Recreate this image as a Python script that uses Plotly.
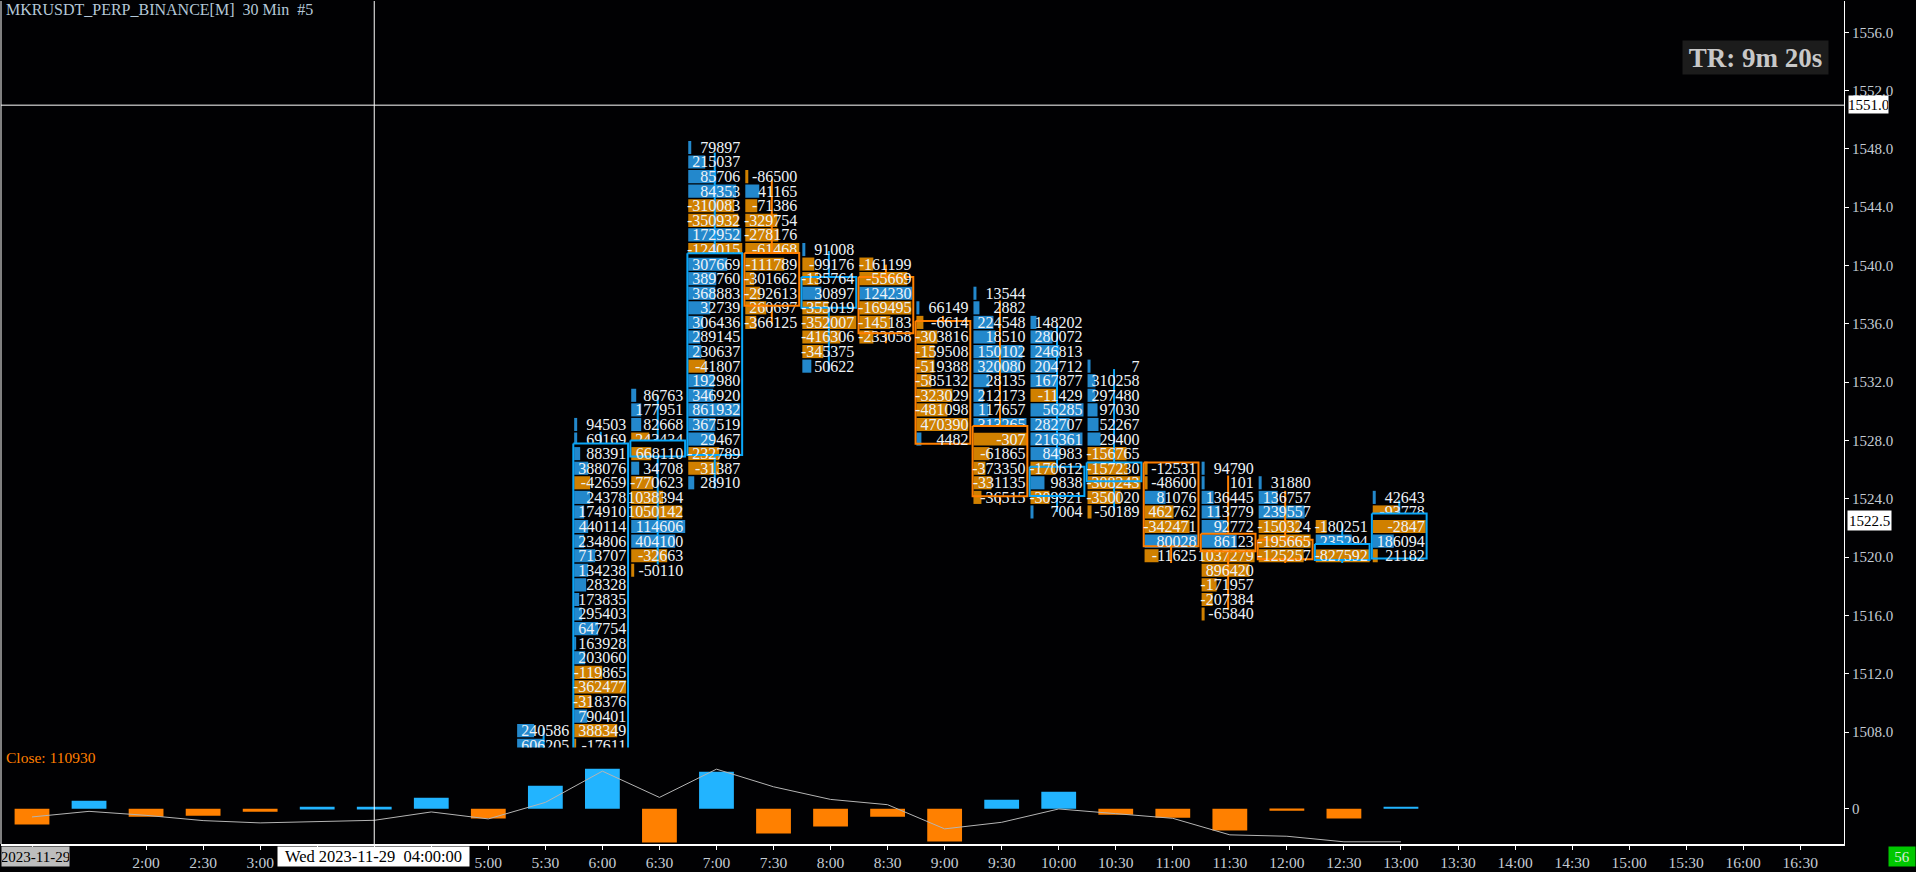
import plotly.graph_objects as go

# ========== Time axis ==========
time_labels = ["1:00", "1:30", "2:00", "2:30", "3:00", "3:30", "4:00", "4:30", "5:00", "5:30", "6:00",
               "6:30", "7:00", "7:30", "8:00", "8:30", "9:00", "9:30", "10:00", "10:30", "11:00", "11:30",
               "12:00", "12:30", "13:00", "13:30", "14:00", "14:30", "15:00", "15:30", "16:00", "16:30"]
hidden_labels = ["1:00", "1:30", "3:30", "4:00", "4:30"]  # sit under the date and crosshair boxes

# ========== Lower panel: delta bars + cumulative line ==========
delta = [-880000, 440000, -440000, -385000, -165000, 110000, 110000, 605000, -550000, 1265000, 2200000,
         -1870000, 2035000, -1375000, -990000, -440000, -1815000, 495000, 935000, -330000, -495000,
         -1210000, -110000, -550000, 110930]
cum_line = [-456500, -148500, -368500, -660000, -786500, -698500, -643500, -181500, -566500, 346500,
            2073500, 621500, 2183500, 1210000, 511500, 220000, -1116500, -753500, -16500, -275000,
            -533500, -1446500, -1523500, -1831500, -1831500]

# ========== Footprint candles (5:30 to 13:00) ==========
candle_slots = [9, 10, 11, 12, 13, 14, 15, 16, 17, 18, 19, 20, 21, 22, 23, 24]
opens = [1505.5, 1506.0, 1526.9, 1527.0, 1540.86, 1537.1, 1539.22, 1536.2, 1528.99, 1524.2, 1525.2,
         1526.5, 1521.6, 1521.2, 1519.8, 1519.9]
closes = [1506.5, 1527.8, 1528.0, 1540.85, 1537.24, 1539.22, 1535.35, 1527.78, 1524.17, 1526.2, 1526.5,
          1520.74, 1520.4, 1519.85, 1520.9, 1523.0]
highs = [1508.3, 1528.6, 1531.05, 1547.75, 1545.9, 1541.0, 1540.06, 1536.55, 1537.6, 1535.9, 1532.9,
         1526.5, 1525.6, 1524.55, 1522.3, 1523.9]
lows = [1505.0, 1506.0, 1519.5, 1524.7, 1536.0, 1532.7, 1534.67, 1527.78, 1523.6, 1523.1, 1523.2,
        1519.6, 1516.4, 1519.6, 1519.6, 1519.9]

# price of the top row in each candle, one row per 1.0 going down
top_rows = [1508, 1529, 1531, 1548, 1546, 1541, 1540, 1537, 1538, 1536, 1533, 1526, 1526, 1525, 1522, 1524]

row_text = [
    ["240586", "606205"],
    ["94503", "69169", "88391", "388076", "-42659", "24378", "174910", "440114", "234806", "713707",
     "134238", "28328", "173835", "295403", "647754", "163928", "203060", "-119865", "-362477", "-318376",
     "790401", "388349", "-17611"],
    ["86763", "177951", "82668", "243434", "668110", "34708", "-770623", "1038394", "1050142", "114606",
     "404100", "-32663", "-50110"],
    ["79897", "215037", "85706", "84353", "-310083", "-350932", "172952", "-124015", "307669", "389760",
     "368883", "32739", "306436", "289145", "230637", "-41807", "192980", "346920", "861932", "367519",
     "29467", "-232789", "-31387", "28910"],
    ["-86500", "41165", "-71386", "-329754", "-278176", "-61468", "-111789", "-301662", "-292613",
     "260697", "-366125"],
    ["91008", "-99176", "-135764", "30897", "-355019", "-352007", "-416306", "-345375", "50622"],
    ["-161199", "-55669", "124230", "-169495", "-145183", "-233058"],
    ["66149", "-6614", "-303816", "-159508", "-519388", "-585132", "-323029", "-481098", "470390", "4482"],
    ["13544", "2882", "224548", "18510", "150102", "320080", "28135", "212173", "117657", "313265",
     "-307", "-61865", "-373350", "-331135", "-36515"],
    ["148202", "280072", "246813", "204712", "167877", "-11429", "56285", "282707", "216361", "84983",
     "-170612", "9838", "-309921", "7004"],
    ["7", "310258", "297480", "97030", "52267", "29400", "-156765", "-157230", "-308243", "-350020", "-50189"],
    ["-12531", "-48600", "81076", "462762", "-342471", "80028", "-11625"],
    ["94790", "101", "136445", "113779", "92772", "86123", "1037279", "896420", "-171957", "-207384", "-65840"],
    ["31880", "136757", "239557", "-150324", "-195665", "-125257"],
    ["-180251", "235294", "-827592"],
    ["42643", "-93778", "-2847", "186094", "21182"],
]

# b = buy (blue), s = sell (orange)
row_side = ["bb", "bbbbsbbbbbbbbbbbbsssbss", "bbbssbsssbbss", "bbbbssbsbbbbbbbsbbbbbssb", "sbsssssssss",
            "bssbssssb", "ssbsss", "bssssssssb", "bbbbbbbbbbsssss", "bbbbbsbbbbsbsb", "bbbbbbsssss",
            "ssbssbs", "bbbbbbsssss", "bbbsss", "sbs", "bssbs"]

# bar length of each row
row_vol = [
    [17, 27],
    [3, 3, 6, 14, 16, 16, 10, 14, 10, 21, 14, 12, 5, 8, 24, 2, 11, 28, 52, 17, 13, 43, 2],
    [5, 10, 10, 18, 20, 8, 22, 32, 51, 54, 44, 36, 3],
    [3, 17, 28, 48, 46, 50, 53, 54, 39, 28, 27, 22, 15, 12, 13, 17, 26, 25, 52, 27, 26, 31, 31, 6],
    [3, 14, 12, 32, 33, 54, 39, 9, 15, 21, 11],
    [3, 12, 16, 19, 26, 54, 38, 21, 9],
    [14, 48, 53, 52, 31, 14],
    [3, 7, 21, 18, 18, 15, 36, 31, 52, 5],
    [3, 6, 20, 22, 49, 47, 16, 10, 15, 53, 54, 16, 12, 18, 8],
    [6, 22, 29, 25, 26, 26, 53, 39, 52, 30, 25, 14, 19, 3],
    [3, 8, 8, 10, 11, 13, 39, 40, 53, 33, 4],
    [3, 3, 21, 29, 45, 53, 14],
    [3, 3, 12, 18, 25, 35, 53, 48, 15, 11, 3],
    [3, 19, 46, 41, 52, 45],
    [11, 36, 54],
    [3, 27, 53, 21, 5],
]

price_ticks = [1556, 1552, 1548, 1544, 1540, 1536, 1532, 1528, 1524, 1520, 1516, 1512, 1508]

# ========== Style ==========
BLUE_BAR = "#2388cc"
ORANGE_BAR = "#d08000"
BLUE = "#0aa6f8"
ORANGE = "#ff7f00"
DELTA_BLUE = "#22b4ff"
DELTA_ORANGE = "#ff8000"
BG = "#010103"
AXIS_TXT = "#c4ccd4"
FONT = "Liberation Serif"

WIDTH, HEIGHT = 1916, 872
LEFT, RIGHT, TOP, BOTTOM = 1, 1844, 1, 848   # plot area in pixels
PANEL_Y = 751
SLOT_PX = 57.04
SLOT0_PX = 32
PRICE_PX = 14.65
PRICE0_PX = 149.6   # pixel of 1548
ROW_SHIFT = 0.1
ROW_H = 0.9
SHIFT = -0.03       # candles sit a little left of their tick
BAR_LEFT = -0.465
TEXT_RIGHT = 0.447
BODY_HALF = 0.48
DELTA_PX = 55000.0  # delta units per pixel
ZERO_PX = 812.5


def paper_x(px):
    return (px - LEFT) / (RIGHT - LEFT)


def paper_y(py):
    return (BOTTOM - py) / (BOTTOM - TOP)


x_range = [(LEFT - SLOT0_PX) / SLOT_PX, (RIGHT - SLOT0_PX) / SLOT_PX]
y_range = [1548 - (PANEL_Y - PRICE0_PX) / PRICE_PX, 1548 + (PRICE0_PX - TOP) / PRICE_PX]
y2_range = [-(BOTTOM - ZERO_PX) * DELTA_PX, (ZERO_PX - PANEL_Y) * DELTA_PX]

# ========== Split rows into drawing groups ==========
bars = {"b": {"x": [], "y": [], "base": []}, "s": {"x": [], "y": [], "base": []}}
text_out = {"x": [], "y": [], "t": []}
text_in = {"x": [], "y": [], "t": []}
strip_x, strip_y = [], []
wick = {"b": {"x": [], "y": []}, "s": {"x": [], "y": []}}
body = {"b": {"x": [], "y": []}, "s": {"x": [], "y": []}}

for c, slot in enumerate(candle_slots):
    mid = slot + SHIFT
    body_top = max(opens[c], closes[c])
    body_bot = min(opens[c], closes[c])
    first_in = None
    for r, txt in enumerate(row_text[c]):
        price = top_rows[c] - r
        side = row_side[c][r]
        bars[side]["x"].append(row_vol[c][r] / SLOT_PX)
        bars[side]["y"].append(price + ROW_SHIFT)
        bars[side]["base"].append(mid + BAR_LEFT)
        inside = body_bot <= price + ROW_SHIFT <= body_top
        group = text_in if inside else text_out
        group["x"].append(mid + TEXT_RIGHT)
        group["y"].append(price)
        group["t"].append(txt)
        if inside and first_in is None:
            first_in = price

    color = "b" if closes[c] >= opens[c] else "s"
    wick[color]["x"] += [mid, mid, None, mid, mid, None]
    wick[color]["y"] += [highs[c], body_top, None, body_bot, lows[c], None]
    body[color]["x"] += [mid - BODY_HALF, mid + BODY_HALF, mid + BODY_HALF, mid - BODY_HALF, mid - BODY_HALF, None]
    body[color]["y"] += [body_top, body_top, body_bot, body_bot, body_top, None]

    # black band: the row above the body gets cut off by the body top
    if first_in is not None:
        row_top = first_in + ROW_SHIFT + ROW_H / 2
        if body_top > row_top:
            strip_x += [mid - BODY_HALF, mid + BODY_HALF, mid + BODY_HALF, mid - BODY_HALF, mid - BODY_HALF, None]
            strip_y += [body_top, body_top, row_top, row_top, body_top, None]

fig = go.Figure()

# ========== Footprint bars ==========
for side, color in (("b", BLUE_BAR), ("s", ORANGE_BAR)):
    fig.add_trace(go.Bar(orientation="h", x=bars[side]["x"], y=bars[side]["y"], base=bars[side]["base"],
                         width=ROW_H, marker=dict(color=color, line=dict(width=0)), hoverinfo="skip"))

# ========== Wicks, text, bodies ==========
for side, color in (("b", BLUE), ("s", ORANGE)):
    fig.add_trace(go.Scatter(x=wick[side]["x"], y=wick[side]["y"], mode="lines",
                             line=dict(color=color, width=2), hoverinfo="skip"))

row_font = dict(family=FONT, size=16, color="#eef3f8")
fig.add_trace(go.Scatter(x=text_out["x"], y=text_out["y"], text=text_out["t"], mode="text",
                         textposition="middle left", textfont=row_font, hoverinfo="skip"))
fig.add_trace(go.Scatter(x=strip_x, y=strip_y, mode="lines", fill="toself", fillcolor=BG,
                         line=dict(width=0, color=BG), hoverinfo="skip"))
for side, color in (("b", BLUE), ("s", ORANGE)):
    fig.add_trace(go.Scatter(x=body[side]["x"], y=body[side]["y"], mode="lines",
                             line=dict(color=color, width=2), hoverinfo="skip"))
fig.add_trace(go.Scatter(x=text_in["x"], y=text_in["y"], text=text_in["t"], mode="text",
                         textposition="middle left", textfont=row_font, hoverinfo="skip"))

# ========== Lower panel ==========
slots = list(range(len(delta)))
fig.add_trace(go.Bar(x=slots, y=delta, yaxis="y2", width=0.61, hoverinfo="skip",
                     marker=dict(color=[DELTA_BLUE if v > 0 else DELTA_ORANGE for v in delta], line=dict(width=0))))
fig.add_trace(go.Scatter(x=slots, y=cum_line, yaxis="y2", mode="lines",
                         line=dict(color="#b4b4b4", width=1), hoverinfo="skip"))

# ========== Boxes and labels ==========
annotations = [
    dict(text="MKRUSDT_PERP_BINANCE[M]  30 Min  #5", px=5, py=10, anchor="left", size=16, color="#b4c8d8"),
    dict(text="Close: 110930", px=5, py=761, anchor="left", size=15.5, color=ORANGE),
    dict(text="<b>TR: 9m 20s</b>", px=1755.5, py=57.5, w=145, h=33, size=27, color="#c8c8c8", bg="#1c1c1c"),
    dict(text="1551.0", px=1868.5, py=105, w=39, h=17, size=15, color="#000000", bg="#ffffff"),
    dict(text="1522.5", px=1869.5, py=522.5, w=43, h=19, size=15, color="#000000", bg="#ffffff"),
    dict(text="2023-11-29", px=35, py=861, w=67, h=19, size=15, color="#000000", bg="#bdbdbd"),
    dict(text="Wed 2023-11-29  04:00:00", px=373.5, py=861, w=191, h=19, size=16.5, color="#000000", bg="#ffffff"),
    dict(text="56", px=1902, py=861, w=26, h=19, size=15, color="#d8ecd8", bg="#00c800"),
]
layout_annotations = []
for a in annotations:
    layout_annotations.append(dict(
        text=a["text"], xref="paper", yref="paper", x=paper_x(a["px"]), y=paper_y(a["py"]),
        xanchor=a.get("anchor", "center"), yanchor="middle", showarrow=False,
        font=dict(family=FONT, size=a["size"], color=a["color"]),
        bgcolor=a.get("bg", "rgba(0,0,0,0)"), width=a.get("w"), height=a.get("h"), borderpad=0))

line_white = dict(color="#ffffff", width=1)
shapes = [
    dict(type="line", xref="paper", yref="paper", x0=0, x1=0, y0=0, y1=1, line=line_white),
    dict(type="line", xref="x", yref="paper", x0=time_labels.index("4:00"), x1=time_labels.index("4:00"),
         y0=0, y1=1, line=line_white),
    dict(type="line", xref="paper", yref="y", x0=0, x1=1, y0=1551, y1=1551, line=line_white),
]

fig.update_layout(
    width=WIDTH, height=HEIGHT,
    margin=dict(l=LEFT, r=WIDTH - RIGHT, t=TOP, b=HEIGHT - BOTTOM, pad=0),
    paper_bgcolor=BG, plot_bgcolor=BG, showlegend=False, barmode="overlay",
    font=dict(family=FONT, size=15, color=AXIS_TXT),
    annotations=layout_annotations, shapes=shapes,
    xaxis=dict(range=x_range, anchor="y2", showgrid=False, zeroline=False, showline=True,
               linecolor="#ffffff", linewidth=1.5, ticks="outside", ticklen=4, tickcolor="#ffffff", tickwidth=1,
               tickmode="array",
               tickvals=[i for i, t in enumerate(time_labels) if t != "1:30"],
               ticktext=["" if t in hidden_labels else t for t in time_labels if t != "1:30"],
               tickangle=0, tickfont=dict(family=FONT, size=15.5, color=AXIS_TXT)),
    yaxis=dict(domain=[paper_y(PANEL_Y), 1], range=y_range, side="right", anchor="x", showgrid=False,
               zeroline=False, showline=True, linecolor="#ffffff", linewidth=1, ticks="outside", ticklen=4,
               tickcolor="#ffffff", tickmode="array", tickvals=price_ticks,
               ticktext=[f"{p}.0" for p in price_ticks], tickfont=dict(family=FONT, size=15, color=AXIS_TXT)),
    yaxis2=dict(domain=[0, paper_y(PANEL_Y)], range=y2_range, side="right", anchor="x", showgrid=False,
                zeroline=False, showline=True, linecolor="#ffffff", linewidth=1, ticks="outside", ticklen=4,
                tickcolor="#ffffff", tickmode="array", tickvals=[0], ticktext=["0"],
                tickfont=dict(family=FONT, size=15, color=AXIS_TXT)),
)

# page margin off so the figure sits in the window corner
fig.write_html("out.html", config={"displayModeBar": False},
               post_script="document.documentElement.style.margin='0';document.documentElement.style.overflow='hidden';"
                           "document.body.style.margin='0';document.body.style.overflow='hidden';"
                           "document.querySelectorAll('.plotly-graph-div').forEach(function(d){d.style.display='block';});")
